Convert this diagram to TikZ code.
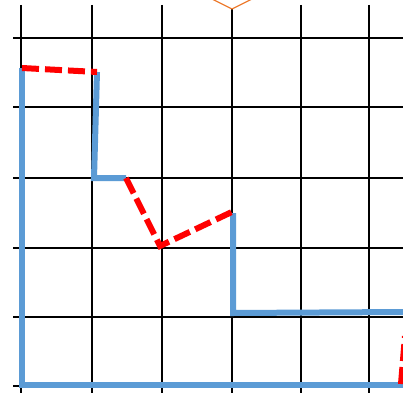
\documentclass[tikz,border=0pt]{standalone}
\begin{document}
\begin{tikzpicture}[x=1pt,y=-1pt,
  grid/.style={black,line width=1.5pt},
  bluepath/.style={color={rgb,255:red,91;green,155;blue,213},line width=6pt,line join=miter},
  redpath/.style={red,line width=6pt,dash pattern=on 17pt off 6pt},
  orangepath/.style={color={rgb,255:red,237;green,125;blue,49},line width=1.3pt}]
\useasboundingbox (0,0) rectangle (403,393);
\fill[white] (0,0) rectangle (403,393);
% grid
\foreach \y in {38,107,178,248,317,386} \draw[grid] (13,\y) -- (403,\y);
\foreach \x in {21,92,162,301,369} \draw[grid] (\x,5) -- (\x,393);
\draw[grid] (232,9) -- (232,393);
% orange
\coordinate (o1) at (212,-1);
\coordinate (o2) at (232,9);
\coordinate (o3) at (252,-1);
\draw[orangepath] (o1) -- (o2) -- (o3);
% points
\coordinate (a) at (22,68);
\coordinate (b) at (22,385);
\coordinate (c) at (404,385);
\coordinate (d) at (97,72);
\coordinate (e) at (94,178);
\coordinate (f) at (126,178);
\coordinate (g) at (160,246);
\coordinate (h) at (236,210);
\coordinate (i) at (233,213);
\coordinate (j) at (233,313);
\coordinate (k) at (404,312);
\coordinate (l) at (401,384);
\coordinate (m) at (405,336);
% blue
\draw[bluepath] (a) -- (b) -- (c);
\draw[bluepath] (d) -- (e) -- (f);
\draw[bluepath] (i) -- (j) -- (k);
% red
\draw[redpath] (a) -- (d);
\draw[redpath] (f) -- (g) -- (h);
\draw[redpath] (l) -- (m);
\end{tikzpicture}
\end{document}
